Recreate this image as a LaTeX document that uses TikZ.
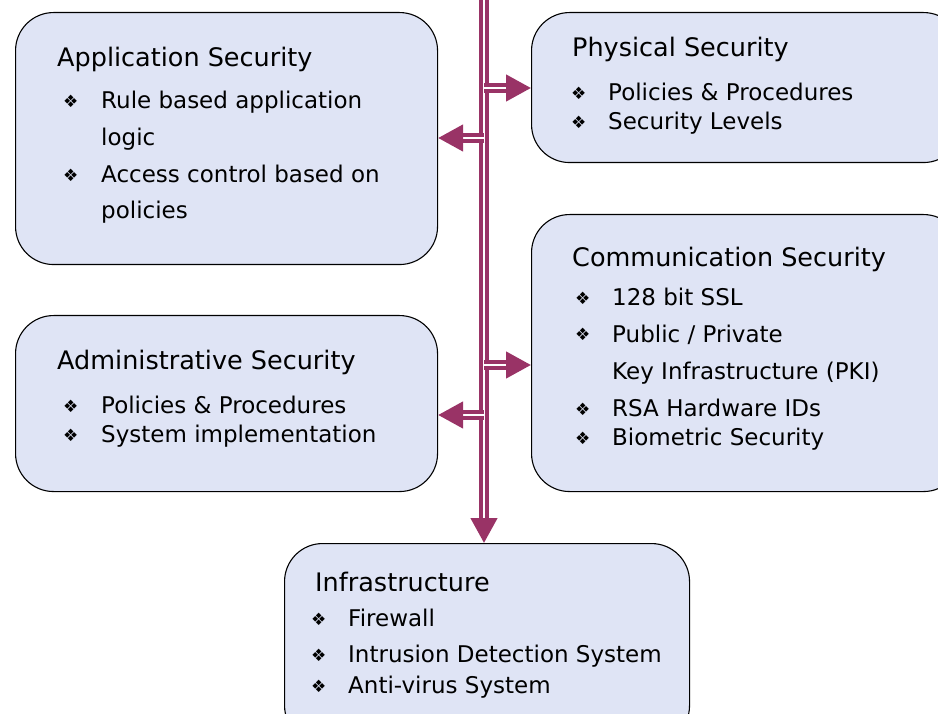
\documentclass[tikz,border=0pt]{standalone}
\usepackage{fontspec}
\setmainfont{DejaVu Sans}
\usetikzlibrary{arrows.meta}
\definecolor{boxfill}{RGB}{223,228,245}
\definecolor{linkcol}{RGB}{153,51,102}
\tikzset{
  area/.style={draw=black,line width=1.1pt,fill=boxfill,rounded corners=38pt,
    anchor=north west,inner sep=0pt},
  title/.style={anchor=base west,inner sep=0pt,font=\fontsize{25.5}{30}\selectfont},
  item/.style={anchor=base west,inner sep=0pt,font=\fontsize{23}{27}\selectfont},
  dot/.style={anchor=base west,inner sep=0pt,font=\fontsize{17}{20}\selectfont},
  link/.style={draw=linkcol,line width=4.6pt,double=white,double distance=1.4pt,
    -{Triangle[length=25pt,width=26pt,fill=linkcol]}}
}
\newcommand{\bul}{\char"2756}
\begin{document}
\begin{tikzpicture}[x=1pt,y=-1pt]
  \useasboundingbox (0,0) rectangle (938,714);
  \clip (0,0) rectangle (938,714);

  % boxes
  \node [area,minimum width=422pt,minimum height=252pt] (app)   at (15,12)  {};
  \node [area,minimum width=422pt,minimum height=176pt] (admin) at (15,315) {};
  \node [area,minimum width=430pt,minimum height=150pt] (phys)  at (531,12) {};
  \node [area,minimum width=430pt,minimum height=277pt] (comm)  at (531,214) {};
  \node [area,minimum width=405pt,minimum height=200pt] (infra) at (284,543) {};

  % application security
  \node [title] (appT) at (57,67)  {Application Security};
  \node [dot]   (appb1) at (63,108) {\bul};
  \node [item]  (app1) at (101,109) {Rule based application};
  \node [item]  (app2) at (101,146) {logic};
  \node [dot]   (appb3) at (63,182) {\bul};
  \node [item]  (app3) at (101,183) {Access control based on};
  \node [item]  (app4) at (101,219) {policies};

  % administrative security
  \node [title] (adminT) at (57,370) {Administrative Security};
  \node [dot]   (adminb1) at (63,412) {\bul};
  \node [item]  (admin1) at (101,413) {Policies \& Procedures};
  \node [dot]   (adminb2) at (63,441) {\bul};
  \node [item]  (admin2) at (101,442) {System implementation};

  % physical security
  \node [title] (physT) at (572,57) {Physical Security};
  \node [dot]   (physb1) at (571,100) {\bul};
  \node [item]  (phys1) at (608,101) {Policies \& Procedures};
  \node [dot]   (physb2) at (571,129) {\bul};
  \node [item]  (phys2) at (608,130) {Security Levels};

  % communication security
  \node [title] (commT) at (572,267) {Communication Security};
  \node [dot]   (commb1) at (575,305) {\bul};
  \node [item]  (comm1) at (612,306) {128 bit SSL};
  \node [dot]   (commb2) at (575,341) {\bul};
  \node [item]  (comm2) at (612,342) {Public / Private};
  \node [item]  (comm3) at (612,379) {Key Infrastructure (PKI)};
  \node [dot]   (commb4) at (575,415) {\bul};
  \node [item]  (comm4) at (612,416) {RSA Hardware IDs};
  \node [dot]   (commb5) at (575,444) {\bul};
  \node [item]  (comm5) at (612,445) {Biometric Security};

  % infrastructure
  \node [title] (infraT) at (315,591) {Infrastructure};
  \node [dot]   (infrab1) at (311,625) {\bul};
  \node [item]  (infra1) at (348,626) {Firewall};
  \node [dot]   (infrab2) at (311,661) {\bul};
  \node [item]  (infra2) at (348,662) {Intrusion Detection System};
  \node [dot]   (infrab3) at (311,692) {\bul};
  \node [item]  (infra3) at (348,693) {Anti-virus System};

  % trunk and branches
  \coordinate (top) at (484,-5);
  \coordinate (j1) at (484,88);
  \coordinate (j2) at (484,138);
  \coordinate (j3) at (484,365);
  \coordinate (j4) at (484,415);
  \draw [link] (top) -- (top |- infra.north);
  \draw [link] (j1) -- (j1 -| phys.west);
  \draw [link] (j2) -- (j2 -| app.east);
  \draw [link] (j3) -- (j3 -| comm.west);
  \draw [link] (j4) -- (j4 -| admin.east);
\end{tikzpicture}
\end{document}
